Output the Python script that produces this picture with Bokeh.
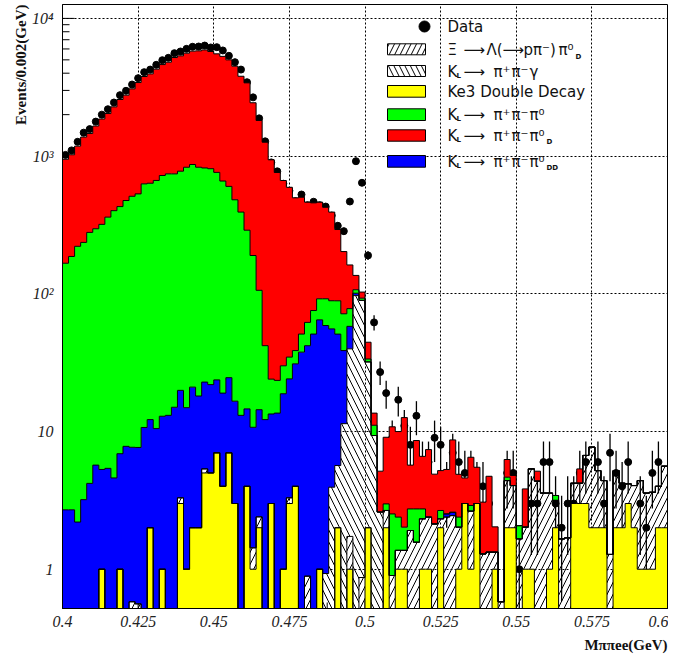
import math
import numpy as np
from bokeh.plotting import figure
from bokeh.models import FixedTicker, ColumnDataSource, Title
from bokeh.core.properties import value
from bokeh.embed import file_html
from bokeh.resources import INLINE

nan = float("nan")

# ---------------- data (100 bins of 0.002 GeV from 0.4 to 0.6) ----------------
BIN_START = 0.4
BIN_WIDTH = 0.002
N_BINS = 100

ke3_double_decay = [
    0, 0, 0, 0, 0, 0, 1, 0, 0, 1,
    0, 0, 0, 0, 2, 0, 1, 0, 0, 3,
    1, 2, 2, 5, 5, 7, 4, 7, 3, 0,
    4, 1, 2, 0, 3, 0, 1, 3, 4, 0,
    0, 0, 1, 0, 0, 2, 0, 1, 0, 0,
    2, 0, 0, 2, 0, 1, 1, 0, 0, 1,
    1, 0, 2, 0, 0, 1, 3, 1, 3, 0,
    0, 1, 0, 2, 2, 0, 1, 1, 0, 0,
    1, 2, 0, 0, 3, 3, 3, 2, 2, 2,
    0, 2, 2, 3, 2, 1, 1, 1, 2, 2,
]
xi_lambda_pi0d = [
    0, 0, 0, 0, 0, 0, 0, 0, 0, 0,
    0, 0.58, 0.56, 0, 0, 0, 0, 0, 0, 0.3,
    0, 0, 0, 0.35, 0, 0, 0, 0, 0, 0,
    0, 0.43, 0.4, 0, 0, 0, 0, 0.3, 0, 0,
    0.89, 0, 0, 0, 0, 0, 0, 0.73, 0, 0.87,
    0, 0, 0, 0.67, 0.9, 0.37, 0.37, 1.91, 1.57, 1.32,
    1.39, 2.13, 0.32, 2.39, 2.45, 1.02, 0, 1.64, 0, 1.29,
    1.33, 0.33, 0.58, 2.4, 2.05, 1.66, 1.02, 4.35, 4.36, 3.57,
    2.57, 1.16, 1.66, 1.69, 1.21, 1.21, 3.7, 5.7, 3.2, 2.4,
    1.28, 3.2, 2.21, 1.17, 2.05, 3.4, 2.57, 2.62, 2.0, 3.6,
]
kl_pipigamma = [
    0, 0, 0, 0, 0, 0, 0, 0, 0, 0,
    0, 0, 0, 0, 0, 0, 0, 0, 0, 0,
    0, 0, 0, 0, 0, 0, 0, 0, 0, 0,
    0, 0, 0, 0, 0, 0, 0, 0, 0, 0,
    0, 0, 0, 0.93, 3.94, 3.66, 11.4, 38.1, 97, 88.7,
    30, 9.35, 2.6, 0, 0, 0, 0, 0, 0, 0,
    0, 0, 0, 0, 0, 0, 0, 0, 0, 0,
    0, 0, 0, 0, 0, 0, 0, 0, 0, 0,
    0, 0, 0, 0, 0, 0, 0, 0, 0, 0,
    0, 0, 0, 0, 0, 0, 0, 0, 0, 0,
]
kl_pipipi0_dd = [
    2.7, 2.7, 2.2, 3.2, 4.2, 5.7, 4.3, 5.4, 4.6, 5.9,
    7.8, 7.1, 7.1, 10.7, 10.2, 10.5, 11.9, 13.1, 15.0, 16.6,
    13.9, 19.0, 16.1, 17.5, 16.9, 16.7, 15.0, 17.6, 13.6, 13.1,
    10.6, 9.3, 12.0, 12.2, 10.4, 13.6, 17.8, 20.8, 27.0, 37.7,
    41.1, 51.0, 63.7, 57.9, 51.7, 45.3, 27.3, 18.2, 4.0, 0,
    0, 0, 0, 0, 0, 0, 0, 0, 0, 0,
    0, 0, 0, 0.13, 0.14, 0, 0, 0, 0, 0,
    0, 0, 0, 0, 0, 0, 0, 0, 0, 0,
    0, 0, 0, 0, 0, 0, 0, 0, 0, 0,
    0, 0, 0, 0, 0, 0, 0, 0, 0, 0,
]
kl_pipipi0 = [
    164, 184, 219, 233, 275, 291, 314, 355, 397, 423,
    468, 503, 524, 618, 623, 655, 710, 730, 728, 757,
    815, 848, 812, 797, 788, 738, 640, 578, 465, 379,
    275, 179, 91.6, 29.8, 10.6, 9.9, 11.2, 10.6, 7.7, 13.3,
    20, 24.6, 27.3, 33.2, 33.4, 38, 32.9, 20, 6, 3.4,
    1.6, 1.75, 0, 0.31, 1.62, 1.02, 0.65, 0.83, 1.17, 0.42,
    0, 0, 0.35, 0, 0, 0.37, 0, 0.26, 0, 0,
    0, 0, 0, 0.26, 0, 0.41, 0, 0, 0, 0,
    0, 0.27, 0, 0, 0, 0, 0, 0, 0, 0,
    0, 0, 0, 0, 0, 0, 0, 0, 0, 0,
]
kl_pipipi0_d = [
    782, 836, 960, 1140, 1181, 1358, 1541, 1677, 1877, 2146,
    2295, 2567, 2890, 3156, 3318, 3613, 3898, 4065, 4456, 4569,
    4763, 4916, 4983, 5086, 4940, 4768, 4641, 4397, 4018, 3408,
    3115, 2250, 1709, 1220, 916, 737, 635, 559, 459, 452,
    401, 382, 371, 333, 303, 204, 131, 84, 29, 10,
    10.9, 2.5, 2.55, 6.1, 8.3, 7.6, 10.6, 2.96, 5.86, 3.86,
    5.0, 2.77, 2.53, 2.78, 6.1, 2.5, 1.6, 3.6, 2.5, 1.78,
    3.4, 0.7, 0, 1.6, 0.75, 0, 1.81, 0, 0.79, 0,
    0, 0, 0, 0, 0, 1.14, 0, 0, 0, 0,
    0, 0, 0, 0, 0, 0, 0, 0, 0, 0,
]
data_events = [
    1020, 1100, 1270, 1480, 1570, 1780, 2000, 2190, 2450, 2770,
    2980, 3310, 3680, 4070, 4250, 4600, 4970, 5170, 5590, 5750,
    6010, 6220, 6250, 6350, 6150, 6180, 5850, 5350, 4810, 4250,
    3440, 2670, 1880, 1280, 900, 775, 630, 560, 470, 526,
    440, 466, 440, 430, 370, 312, 285, 468, 918, 640,
    190, 62, 27, 19, 9, 17, 11, 8, 13, 6,
    6, 9, 8, 4, 7, 6, 5, 5, 4, 4,
    3, nan, nan, 5, 5, 1, nan, 3, 3, 6,
    6, 3, 2, 3, 3, 5, 6, nan, 6, 3,
    7, 5, 4, 6, nan, 3, 2, 5, 6, nan,
]

x_tick_values = [0.4, 0.425, 0.45, 0.475, 0.5, 0.525, 0.55, 0.575, 0.6]
x_tick_labels = ["0.4", "0.425", "0.45", "0.475", "0.5", "0.525", "0.55", "0.575", "0.6"]
x_minor_values = [0.4125, 0.4375, 0.4625, 0.4875, 0.5125, 0.5375, 0.5625, 0.5875]
y_tick_values = [1, 10, 100, 1000, 10000]
y_tick_labels = ["1", "10", "10²", "10³", "10⁴"]
y_minor_values = [m * 10.0 ** e for e in range(-1, 5) for m in range(2, 10)]

# ---------------- page geometry (layout only) ----------------
FRAME_LEFT_PX, FRAME_RIGHT_PX = 62.0, 667.0
FRAME_TOP_PX, FRAME_BOTTOM_PX = 4.0, 608.0
Y1_PX, PX_PER_DECADE = 568.7, 137.7
FLOOR = 1e-3


def page_x(px):
    return BIN_START + (px - FRAME_LEFT_PX) / (FRAME_RIGHT_PX - FRAME_LEFT_PX) * (BIN_WIDTH * N_BINS)


def page_y(py):
    return 10 ** ((Y1_PX - py) / PX_PER_DECADE)


y_lo, y_hi = page_y(FRAME_BOTTOM_PX), page_y(FRAME_TOP_PX)
x_lo, x_hi = BIN_START, BIN_START + BIN_WIDTH * N_BINS

p = figure(width=668, height=663, x_range=(x_lo, x_hi), y_range=(y_lo, y_hi),
           y_axis_type="log", output_backend="svg", toolbar_location=None,
           min_border_left=62, min_border_right=1, min_border_top=4, min_border_bottom=55)
p.background_fill_color = "white"
p.border_fill_color = "white"
p.outline_line_color = "black"
p.outline_line_width = 1

# axes (tick marks are drawn separately underneath the histograms, as in the original)
p.xaxis.ticker = FixedTicker(ticks=x_tick_values)
p.xaxis.major_label_overrides = {t: l for t, l in zip(x_tick_values, x_tick_labels)}
p.yaxis.ticker = FixedTicker(ticks=y_tick_values)
p.yaxis.major_label_overrides = {t: l for t, l in zip(y_tick_values, y_tick_labels)}
for ax in (p.xaxis[0], p.yaxis[0]):
    ax.major_tick_out = 0
    ax.major_tick_in = 0
    ax.minor_tick_out = 0
    ax.minor_tick_in = 0
    ax.axis_line_color = "black"
    ax.major_label_text_font = "Liberation Serif"
    ax.major_label_text_font_style = "italic"
    ax.major_label_text_font_size = "16px"
    ax.major_label_text_color = "#222222"
p.xaxis.major_label_standoff = 7
p.yaxis.major_label_standoff = 9

# grid
p.xgrid.ticker = FixedTicker(ticks=x_tick_values[1:-1])
p.ygrid.ticker = FixedTicker(ticks=y_tick_values)
for g in (p.xgrid[0], p.ygrid[0]):
    g.grid_line_color = "black"
    g.grid_line_dash = "2 2"
    g.grid_line_width = 1

# tick marks inside the frame, below the histograms
tick_src_y = ColumnDataSource(dict(
    x0=[x_lo] * (len(y_tick_values) + len(y_minor_values)),
    x1=[page_x(FRAME_LEFT_PX + 12)] * len(y_tick_values) + [page_x(FRAME_LEFT_PX + 7)] * len(y_minor_values),
    y=list(y_tick_values) + y_minor_values))
p.segment(x0="x0", y0="y", x1="x1", y1="y", source=tick_src_y, line_color="black",
          line_width=1, level="underlay")
tick_src_x = ColumnDataSource(dict(
    x=list(x_tick_values) + x_minor_values,
    y0=[y_lo] * (len(x_tick_values) + len(x_minor_values)),
    y1=[page_y(FRAME_BOTTOM_PX - 9)] * len(x_tick_values) + [page_y(FRAME_BOTTOM_PX - 6)] * len(x_minor_values)))
p.segment(x0="x", y0="y0", x1="x", y1="y1", source=tick_src_x, line_color="black",
          line_width=1, level="underlay")

edges = BIN_START + BIN_WIDTH * np.arange(N_BINS + 1)
centers = edges[:-1] + BIN_WIDTH / 2

# data (drawn first: the solid stacked fills hide it where they cover it)
d = np.array(data_events, dtype=float)
m = ~np.isnan(d)
dsrc = ColumnDataSource(dict(x=centers[m], y=d[m],
                             lo=np.maximum(d[m] - np.sqrt(d[m]), FLOOR),
                             hi=d[m] + np.sqrt(d[m])))
p.segment(x0="x", y0="lo", x1="x", y1="hi", source=dsrc, line_color="black", line_width=1.3)
p.scatter(x="x", y="y", source=dsrc, size=7, color="black")

# stacked histograms, each layer drawn as one step-shaped polygon
hatch_common = dict(fill_color=None, hatch_color="black", hatch_scale=12, hatch_weight=1)
layers = [
    (ke3_double_decay, dict(fill_color="#ffff00")),
    (xi_lambda_pi0d, dict(hatch_pattern="/", **hatch_common)),
    (kl_pipigamma, dict(hatch_pattern="\\", **hatch_common)),
    (kl_pipipi0_dd, dict(fill_color="#0000ff")),
    (kl_pipipi0, dict(fill_color="#00ff00")),
    (kl_pipipi0_d, dict(fill_color="#ff0000")),
]
step_x = np.repeat(edges, 2)[1:-1]
cum = np.zeros(N_BINS)
cumulatives = []
for vals, style in layers:
    v = np.array(vals, dtype=float)
    top = cum + v
    ys_top = np.repeat(np.maximum(top, FLOOR), 2)
    ys_bot = np.repeat(np.maximum(cum, FLOOR), 2)
    px_poly = np.concatenate([step_x, step_x[::-1]])
    py_poly = np.concatenate([ys_top, ys_bot[::-1]])
    p.patch(px_poly, py_poly, line_color=None, **style)
    cumulatives.append(top.copy())
    cum = top

# histogram outlines
xs_line = np.repeat(edges, 2)
for c in cumulatives:
    ys_line = np.concatenate([[FLOOR], np.repeat(np.maximum(c, FLOOR), 2), [FLOOR]])
    p.line(xs_line, ys_line, line_color="black", line_width=1)

# ---------------- legend (drawn by hand, layout in page pixels) ----------------
LEG_FONT = value("DejaVu Sans")
p.scatter([page_x(424)], [page_y(26)], size=11, color="black")
legend_boxes = [
    (43.3, 54.3, dict(fill_color="white", hatch_pattern="/", hatch_color="black", hatch_scale=11)),
    (65.0, 76.0, dict(fill_color="white", hatch_pattern="\\", hatch_color="black", hatch_scale=11)),
    (85.0, 96.7, dict(fill_color="#ffff00")),
    (108.3, 120.0, dict(fill_color="#00ff00")),
    (129.3, 140.7, dict(fill_color="#ff0000")),
    (155.0, 166.7, dict(fill_color="#0000ff")),
]
for top_px, bot_px, style in legend_boxes:
    p.quad(left=[page_x(387)], right=[page_x(425)], top=[page_y(top_px)],
           bottom=[page_y(bot_px)], line_color="black", line_width=1, **style)

legend_texts = [
    (447, 26, "Data"),
    (447, 49, "Ξ"), (463, 49, "⟶"), (486, 49, "Λ("), (502, 49, "⟶"),
    (523, 49, "pπ⁻)"), (558, 49, "π⁰"),
    (447, 71, "K"), (463, 71, "⟶"), (493, 71, "π⁺"), (511, 71, "π⁻"), (529, 71, "γ"),
    (447, 91, "Ke3 Double Decay"),
    (447, 114, "K"), (463, 114, "⟶"), (493, 114, "π⁺"), (511, 114, "π⁻"), (529, 114, "π⁰"),
    (447, 135, "K"), (463, 135, "⟶"), (493, 135, "π⁺"), (511, 135, "π⁻"), (529, 135, "π⁰"),
    (447, 161, "K"), (463, 161, "⟶"), (493, 161, "π⁺"), (511, 161, "π⁻"), (529, 161, "π⁰"),
]
legend_subs = [
    (575, 56, "D"), (456, 75, "L"), (456, 118, "L"), (456, 139, "L"),
    (546, 141, "D"), (456, 165, "L"), (546, 167, "DD"),
]
for px, py, txt in legend_texts:
    p.text(x=[page_x(px)], y=[page_y(py)], text=[txt], text_font=LEG_FONT,
           text_font_size=value("15px"), text_baseline="middle", text_align="left",
           text_color="#111111")
for px, py, txt in legend_subs:
    p.text(x=[page_x(px)], y=[page_y(py)], text=[txt], text_font=LEG_FONT,
           text_font_size=value("7px"), text_font_style="bold", text_baseline="middle",
           text_align="left", text_color="#111111")

# axis titles
p.add_layout(Title(text="Events/0.002(GeV)", align="right", standoff=0,
                   text_font="Liberation Serif", text_font_style="bold",
                   text_font_size="15px", text_color="#111111"), "left")
p.add_layout(Title(text="Mππee(GeV)", align="right", standoff=10,
                   text_font="Liberation Serif", text_font_style="bold",
                   text_font_size="15px", text_color="#111111"), "below")

open("out.html", "w").write(file_html(p, INLINE))
